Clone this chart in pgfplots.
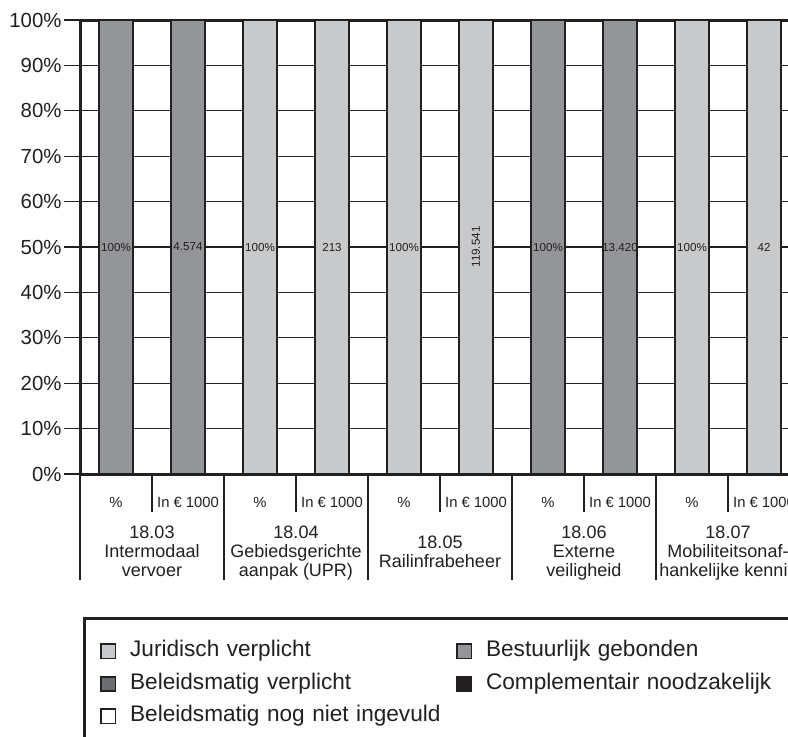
\documentclass[border=0pt]{standalone}
\usepackage{fontspec}
\setmainfont{Liberation Sans}
\usepackage{pgfplots}
\pgfplotsset{compat=1.18}

\definecolor{ink}{HTML}{231F20}
\definecolor{juri}{HTML}{C8C9CB}
\definecolor{bestuur}{HTML}{939598}
\definecolor{beleid}{HTML}{6D6E71}

\begin{document}
\begin{tikzpicture}
% picture is 788 x 736 px, 1 px = 0.5 pt; the chart runs past the right edge
\path[use as bounding box] (0,0) rectangle (394pt,-368pt);
\clip (0,0) rectangle (394pt,-368pt);

\begin{axis}[
  at={(40pt,-237pt)}, anchor=south west,
  scale only axis, width=360pt, height=227pt,
  xmin=0, xmax=10, ymin=0, ymax=100,
  enlargelimits=false,
  ybar, bar width=17pt, bar shift=0pt,
  axis line style={ink, line width=1.5pt},
  xtick=\empty,
  ytick={0,10,...,100},
  yticklabels={0\%,10\%,20\%,30\%,40\%,50\%,60\%,70\%,80\%,90\%,100\%},
  yticklabel style={font=\fontsize{10.2}{12}\selectfont, text=ink, xshift=2.3pt},
  ytick pos=left, tick align=outside, major tick length=8pt,
  ytick style={ink, line width=0.6pt},
  ymajorgrids, major grid style={ink, line width=0.65pt},
  point meta=explicit symbolic,
  nodes near coords,
  every node near coord/.append style={font=\fontsize{5.8}{7}\selectfont,
    text=ink, anchor=center, yshift=-113.5pt},
  legend columns=2,
  legend cell align=left,
  legend style={at={(axis description cs:0.004,-0.316)}, anchor=north west,
    draw=ink, line width=1.4pt, inner xsep=8pt, inner ysep=11pt, row sep=5.75pt,
    nodes={font=\fontsize{11.3}{13}\selectfont, text=ink, inner sep=0pt,
      text height=8pt, text depth=2.5pt, text width=163pt}},
  legend image code/.code={
    \path[draw=none, fill=none] (0pt,0pt) rectangle (14.5pt,0pt);
    \draw[#1, draw=ink, line width=0.9pt] (0pt,-3.6pt) rectangle (7.2pt,3.6pt);},
]
\addplot[fill=juri, draw=ink, line width=1.2pt] coordinates {
  (2.5,100) [100\%] (3.5,100) [213] (4.5,100) [100\%] (8.5,100) [100\%] (9.5,100) [42]};
\addlegendentry{Juridisch verplicht}
\addplot[fill=bestuur, draw=ink, line width=1.2pt] coordinates {
  (0.5,100) [100\%] (1.5,100) [4.574] (6.5,100) [100\%] (7.5,100) [13.420]};
\addlegendentry{Bestuurlijk gebonden}
\addlegendimage{fill=beleid}
\addlegendentry{Beleidsmatig verplicht}
\addlegendimage{fill=ink}
\addlegendentry{Complementair noodzakelijk}
\addlegendimage{fill=white}
\addlegendentry{Beleidsmatig nog niet ingevuld}
\addplot[forget plot, fill=juri, draw=ink, line width=1.2pt,
  every node near coord/.append style={rotate=90}] coordinates {(5.5,100) [119.541]};
\end{axis}

% category table below the bars (px coordinates, y downwards)
\begin{scope}[x=0.5pt, y=-0.5pt, ink, line width=0.55pt]
  \foreach \g in {80,224,368,512,656,800} \draw (\g,474) -- (\g,580);
  \foreach \g in {152,296,440,584,728} \draw (\g,474) -- (\g,512);
  \foreach \g in {116,260,404,548,692}
    \node[font=\fontsize{7.4}{9}\selectfont] at (\g,502) {\%};
  \foreach \g in {188,332,476,620,764}
    \node[font=\fontsize{7.4}{9}\selectfont] at (\g,502) {In € 1000};
  \tikzset{grp/.style={font=\fontsize{9}{9.6}\selectfont, align=center, anchor=north, inner sep=0pt}}
  \node[grp] at (152,525) {18.03\\Intermodaal\\vervoer};
  \node[grp] at (296,525) {18.04\\Gebiedsgerichte\\aanpak (UPR)};
  \node[grp] at (440,535) {18.05\\Railinfrabeheer};
  \node[grp] at (584,525) {18.06\\Externe\\veiligheid};
  \node[grp] at (728,525) {18.07\\Mobiliteitsonaf-\\hankelijke kennis};
\end{scope}
\end{tikzpicture}
\end{document}
